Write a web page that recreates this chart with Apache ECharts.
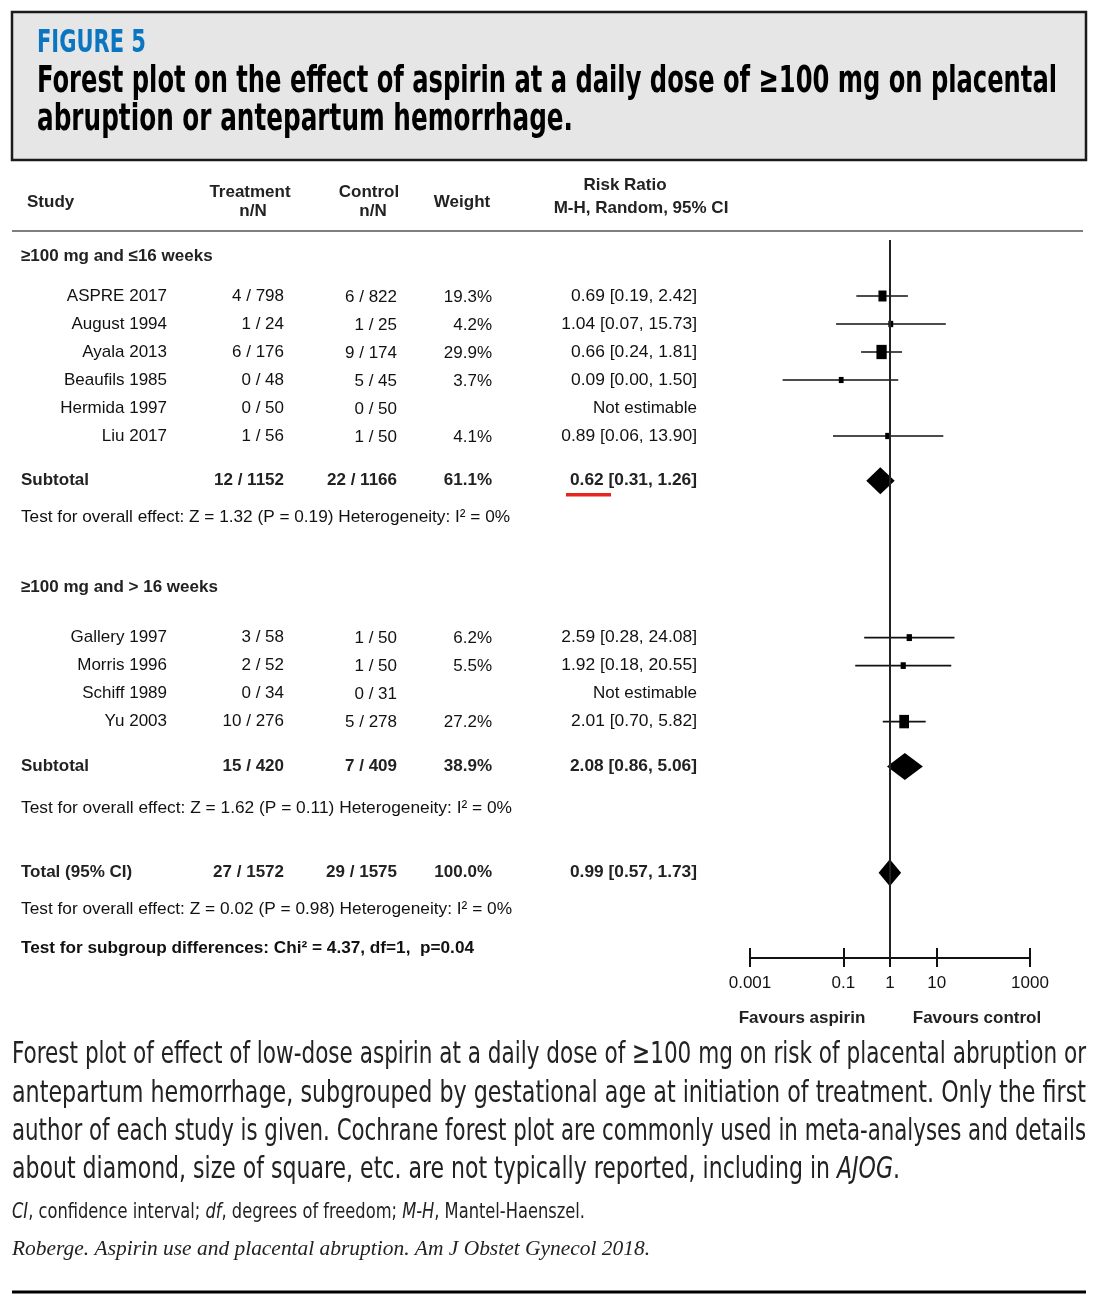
<!DOCTYPE html>
<html>
<head>
<meta charset="utf-8">
<script src="https://cdn.jsdelivr.net/npm/echarts@6/dist/echarts.min.js"></script>
<style>
  html, body { margin: 0; padding: 0; background: #fff; }
  #main { width: 1098px; height: 1306px; }
</style>
</head>
<body>
<div id="main"></div>
<script>
// ---------- data ----------
const group1Label = '≥100 mg and ≤16 weeks';
const studies1 = ['ASPRE 2017', 'August 1994', 'Ayala 2013', 'Beaufils 1985', 'Hermida 1997', 'Liu 2017'];
const treat1 = ['4 / 798', '1 / 24', '6 / 176', '0 / 48', '0 / 50', '1 / 56'];
const ctrl1 = ['6 / 822', '1 / 25', '9 / 174', '5 / 45', '0 / 50', '1 / 50'];
const weight1 = [19.3, 4.2, 29.9, 3.7, null, 4.1];
const rr1 = [0.69, 1.04, 0.66, 0.09, null, 0.89];
const lo1 = [0.19, 0.07, 0.24, 0.005, null, 0.06];   // Beaufils printed 0.00, whisker ends near 0.005
const hi1 = [2.42, 15.73, 1.81, 1.50, null, 13.90];
const ciLabel1 = ['0.69 [0.19, 2.42]', '1.04 [0.07, 15.73]', '0.66 [0.24, 1.81]', '0.09 [0.00, 1.50]', 'Not estimable', '0.89 [0.06, 13.90]'];

const group2Label = '≥100 mg and > 16 weeks';
const studies2 = ['Gallery 1997', 'Morris 1996', 'Schiff 1989', 'Yu 2003'];
const treat2 = ['3 / 58', '2 / 52', '0 / 34', '10 / 276'];
const ctrl2 = ['1 / 50', '1 / 50', '0 / 31', '5 / 278'];
const weight2 = [6.2, 5.5, null, 27.2];
const rr2 = [2.59, 1.92, null, 2.01];
const lo2 = [0.28, 0.18, null, 0.70];
const hi2 = [24.08, 20.55, null, 5.82];
const ciLabel2 = ['2.59 [0.28, 24.08]', '1.92 [0.18, 20.55]', 'Not estimable', '2.01 [0.70, 5.82]'];

// pooled rows: subtotal 1, subtotal 2, total
const pooledName = ['Subtotal', 'Subtotal', 'Total (95% CI)'];
const pooledTreat = ['12 / 1152', '15 / 420', '27 / 1572'];
const pooledCtrl = ['22 / 1166', '7 / 409', '29 / 1575'];
const pooledWeight = ['61.1%', '38.9%', '100.0%'];
const pooledRR = [0.62, 2.08, 0.99];
const pooledLo = [0.31, 0.86, 0.57];
const pooledHi = [1.26, 5.06, 1.73];
const pooledLabel = ['0.62 [0.31, 1.26]', '2.08 [0.86, 5.06]', '0.99 [0.57, 1.73]'];

const tests = [
  'Test for overall effect: Z = 1.32 (P = 0.19) Heterogeneity: I² = 0%',
  'Test for overall effect: Z = 1.62 (P = 0.11) Heterogeneity: I² = 0%',
  'Test for overall effect: Z = 0.02 (P = 0.98) Heterogeneity: I² = 0%'
];
const subgroupTest = 'Test for subgroup differences: Chi² = 4.37, df=1,  p=0.04';

const axisTicks = [0.001, 0.1, 1, 10, 1000];

// ---------- layout ----------
const SANS = "'Liberation Sans', Arial, sans-serif";
const NARROW = "'Liberation Sans Narrow', 'DejaVu Sans Condensed', sans-serif";
const SERIF = "'Liberation Serif', serif";
const INK = '#111';

const GRID_TOP = 240, GRID_H = 718, ROW_H = 28;
// row slots (in study-row units from the top of the plot area)
const SLOT = { g1: 0.6, s1: 2, sub1: 8.6, test1: 9.9, g2: 12.4, s2: 14.2, sub2: 18.8, test2: 20.3, total: 22.6, test3: 23.9, chi: 25.3 };

const slots1 = studies1.map((s, i) => SLOT.s1 + i);
const slots2 = studies2.map((s, i) => SLOT.s2 + i);
const pooledSlot = [SLOT.sub1, SLOT.sub2, SLOT.total];

// squares + whiskers
const studyData = [];
rr1.forEach((v, i) => { if (v != null) studyData.push([v, lo1[i], hi1[i], weight1[i], slots1[i]]); });
rr2.forEach((v, i) => { if (v != null) studyData.push([v, lo2[i], hi2[i], weight2[i], slots2[i]]); });
const diamondData = pooledRR.map((v, i) => [v, pooledLo[i], pooledHi[i], pooledSlot[i]]);

const chart = echarts.init(document.getElementById('main'), null, { renderer: 'canvas' });

const tickFmt = v => String(+(+v).toPrecision(3));

chart.setOption({
  animation: false,
  backgroundColor: '#fff',
  grid: { left: 750, top: GRID_TOP, width: 280, height: GRID_H, containLabel: false },
  xAxis: [{
    type: 'log', logBase: 10, min: 0.001, max: 1000, position: 'bottom',
    axisLine: { show: true, onZero: false, lineStyle: { color: INK, width: 2 } },
    axisTick: { show: true, customValues: axisTicks, length: 9, lineStyle: { color: INK, width: 2 } },
    axisLabel: { show: true, customValues: axisTicks, margin: 17, fontSize: 17, color: INK, fontFamily: SANS, formatter: tickFmt },
    splitLine: { show: false }
  }, {
    // second copy only to draw the upper half of each tick
    type: 'log', logBase: 10, min: 0.001, max: 1000, position: 'bottom',
    axisLine: { show: false, onZero: false },
    axisTick: { show: true, inside: true, customValues: axisTicks, length: 10, lineStyle: { color: INK, width: 2 } },
    axisLabel: { show: false },
    splitLine: { show: false }
  }],
  yAxis: { type: 'value', min: 0, max: GRID_H / ROW_H, inverse: true, show: false },
  series: [{
    type: 'custom',
    name: 'studies',
    silent: true,
    data: studyData,
    encode: { x: [0, 1, 2], y: 4 },
    renderItem: function (params, api) {
      const y = api.value(4);
      const c = api.coord([api.value(0), y]);
      const l = api.coord([api.value(1), y]);
      const r = api.coord([api.value(2), y]);
      const wt = api.value(3);
      // square size grows with weight
      const w = 4 + wt * 0.21, h = 5 + wt * 0.31;
      return {
        type: 'group',
        children: [
          { type: 'line', shape: { x1: l[0], y1: l[1], x2: r[0], y2: r[1] }, style: { stroke: INK, lineWidth: 1.7 } },
          { type: 'rect', shape: { x: c[0] - w / 2, y: c[1] - h / 2, width: w, height: h }, style: { fill: '#000' } }
        ]
      };
    }
  }, {
    type: 'custom',
    name: 'pooled',
    silent: true,
    data: diamondData,
    encode: { x: [0, 1, 2], y: 3 },
    renderItem: function (params, api) {
      const y = api.value(3);
      const c = api.coord([api.value(0), y]);
      const l = api.coord([api.value(1), y]);
      const r = api.coord([api.value(2), y]);
      const hh = 13.5;
      return {
        type: 'polygon',
        shape: { points: [[l[0], c[1]], [c[0], c[1] - hh], [r[0], c[1]], [c[0], c[1] + hh]] },
        style: { fill: '#000' }
      };
    },
    markLine: {
      silent: true,
      symbol: ['none', 'none'],
      label: { show: false },
      lineStyle: { color: '#222', width: 2, type: 'solid' },
      data: [{ xAxis: 1 }]
    }
  }]
});

// ---------- text ----------
const ctx = document.createElement('canvas').getContext('2d');
function measure(text, size, family, weight, fstyle) {
  ctx.font = (fstyle || 'normal') + ' ' + (weight || 'normal') + ' ' + size + 'px ' + family;
  return ctx.measureText(text).width;
}
function txt(x, y, text, o) {
  o = o || {};
  const size = o.size || 17, family = o.family || SANS, weight = o.weight || 'normal', fstyle = o.style || 'normal';
  const align = o.align || 'left';
  let sx = o.scaleX || 1;
  if (o.fit) sx = o.fit / (o.width || measure(text, size, family, weight, fstyle));
  return {
    type: 'text', x: x, y: y, scaleX: sx, silent: true,
    style: {
      text: text, fontSize: size, fontFamily: family, fontWeight: weight, fontStyle: fstyle,
      fill: o.color || INK, align: align, textAlign: align,
      verticalAlign: 'middle', textVerticalAlign: 'middle', rich: o.rich
    }
  };
}
const py = s => chart.convertToPixel({ yAxisIndex: 0 }, s);

const COL = { name: 167, treat: 284, ctrl: 397, weight: 492, ci: 697, left: 21 };
const ciScale = 126 / measure(ciLabel1[0], 17, SANS);
const ciBoldScale = 127 / measure(pooledLabel[0], 17, SANS, 'bold');

const g = [];
// title box
g.push({ type: 'rect', silent: true, shape: { x: 12, y: 12, width: 1074, height: 148 }, style: { fill: '#e6e6e6', stroke: '#1a1a1a', lineWidth: 2.5 } });
g.push(txt(37, 44, 'FIGURE 5', { size: 32, family: NARROW, weight: 'bold', color: '#0a76c2', fit: 109 }));
g.push(txt(37, 82, 'Forest plot on the effect of aspirin at a daily dose of ≥100 mg on placental', { size: 38, family: NARROW, weight: 'bold', color: '#000', fit: 1020 }));
g.push(txt(37, 120, 'abruption or antepartum hemorrhage.', { size: 38, family: NARROW, weight: 'bold', color: '#000', fit: 536 }));

// column headers
const hd = { weight: 'bold', color: '#222' };
g.push(txt(27, 202, 'Study', hd));
g.push(txt(250, 192, 'Treatment', Object.assign({ align: 'center' }, hd)));
g.push(txt(253, 211, 'n/N', Object.assign({ align: 'center' }, hd)));
g.push(txt(369, 192, 'Control', Object.assign({ align: 'center' }, hd)));
g.push(txt(373, 211, 'n/N', Object.assign({ align: 'center' }, hd)));
g.push(txt(462, 202, 'Weight', Object.assign({ align: 'center' }, hd)));
g.push(txt(625, 185, 'Risk Ratio', Object.assign({ align: 'center' }, hd)));
g.push(txt(641, 208, 'M-H, Random, 95% CI', Object.assign({ align: 'center' }, hd)));
g.push({ type: 'line', silent: true, shape: { x1: 12, y1: 231, x2: 1083, y2: 231 }, style: { stroke: '#555', lineWidth: 1.5 } });

function studyRows(names, tr, ct, wt, lab, slots) {
  names.forEach((n, i) => {
    const y = py(slots[i]);
    g.push(txt(COL.name, y, n, { align: 'right' }));
    g.push(txt(COL.treat, y, tr[i], { align: 'right' }));
    g.push(txt(COL.ctrl, y + 1, ct[i], { align: 'right' }));
    if (wt[i] != null) g.push(txt(COL.weight, y + 1, wt[i].toFixed(1) + '%', { align: 'right' }));
    const est = lab[i] !== 'Not estimable';
    g.push(txt(COL.ci, y, lab[i], { align: 'right', scaleX: est ? ciScale : 1 }));
  });
}
g.push(txt(COL.left, py(SLOT.g1), group1Label, { weight: 'bold', color: '#222' }));
studyRows(studies1, treat1, ctrl1, weight1, ciLabel1, slots1);
g.push(txt(COL.left, py(SLOT.g2), group2Label, { weight: 'bold', color: '#222' }));
studyRows(studies2, treat2, ctrl2, weight2, ciLabel2, slots2);

pooledName.forEach((n, i) => {
  const y = py(pooledSlot[i]);
  const b = { weight: 'bold', color: '#222' };
  g.push(txt(COL.left, y, n, b));
  g.push(txt(COL.treat, y, pooledTreat[i], Object.assign({ align: 'right' }, b)));
  g.push(txt(COL.ctrl, y, pooledCtrl[i], Object.assign({ align: 'right' }, b)));
  g.push(txt(COL.weight, y, pooledWeight[i], Object.assign({ align: 'right' }, b)));
  g.push(txt(COL.ci, y, pooledLabel[i], Object.assign({ align: 'right', scaleX: ciBoldScale }, b)));
});
// red underline under the first subtotal estimate
g.push({ type: 'line', silent: true, shape: { x1: 566, y1: py(SLOT.sub1) + 14, x2: 611, y2: py(SLOT.sub1) + 14 }, style: { stroke: '#e8251c', lineWidth: 3.5 } });

g.push(txt(COL.left, py(SLOT.test1), tests[0], { fit: 489 }));
g.push(txt(COL.left, py(SLOT.test2), tests[1], { fit: 491 }));
g.push(txt(COL.left, py(SLOT.test3), tests[2], { fit: 491 }));
g.push(txt(COL.left, py(SLOT.chi), subgroupTest, { weight: 'bold', size: 16, fit: 453 }));

g.push(txt(802, 1018, 'Favours aspirin', { align: 'center', weight: 'bold', color: '#222' }));
g.push(txt(977, 1018, 'Favours control', { align: 'center', weight: 'bold', color: '#222' }));

// caption
const cap = { size: 31, family: NARROW, color: '#222' };
g.push(txt(12, 1055, 'Forest plot of effect of low-dose aspirin at a daily dose of ≥100 mg on risk of placental abruption or', Object.assign({ fit: 1074 }, cap)));
g.push(txt(12, 1094, 'antepartum hemorrhage, subgrouped by gestational age at initiation of treatment. Only the first', Object.assign({ fit: 1074 }, cap)));
g.push(txt(12, 1132, 'author of each study is given. Cochrane forest plot are commonly used in meta-analyses and details', Object.assign({ fit: 1074 }, cap)));
const l4a = 'about diamond, size of square, etc. are not typically reported, including in ', l4b = 'AJOG', l4c = '.';
const l4w = measure(l4a + l4c, 31, NARROW) + measure(l4b, 31, NARROW, 'normal', 'italic');
g.push(txt(12, 1170, l4a + '{i|' + l4b + '}' + l4c, Object.assign({
  fit: 888, width: l4w,
  rich: { i: { fontStyle: 'italic', fontSize: 31, fontFamily: NARROW, fill: '#222' } }
}, cap)));

const fnA = ['CI', ', confidence interval; ', 'df', ', degrees of freedom; ', 'M-H', ', Mantel-Haenszel.'];
const fnW = fnA.reduce((s, t, i) => s + measure(t, 22, NARROW, 'normal', i % 2 ? 'normal' : 'italic'), 0);
g.push(txt(12, 1212, fnA.map((t, i) => i % 2 ? t : '{i|' + t + '}').join(''), {
  size: 22, family: NARROW, color: '#222', fit: 573, width: fnW,
  rich: { i: { fontStyle: 'italic', fontSize: 22, fontFamily: NARROW, fill: '#222' } }
}));
g.push(txt(12, 1249, 'Roberge. Aspirin use and placental abruption. Am J Obstet Gynecol 2018.', { size: 22, family: SERIF, style: 'italic', color: '#222', fit: 638 }));
g.push({ type: 'line', silent: true, shape: { x1: 12, y1: 1292, x2: 1086, y2: 1292 }, style: { stroke: '#000', lineWidth: 3 } });

chart.setOption({ graphic: { elements: g } });
</script>
</body>
</html>
